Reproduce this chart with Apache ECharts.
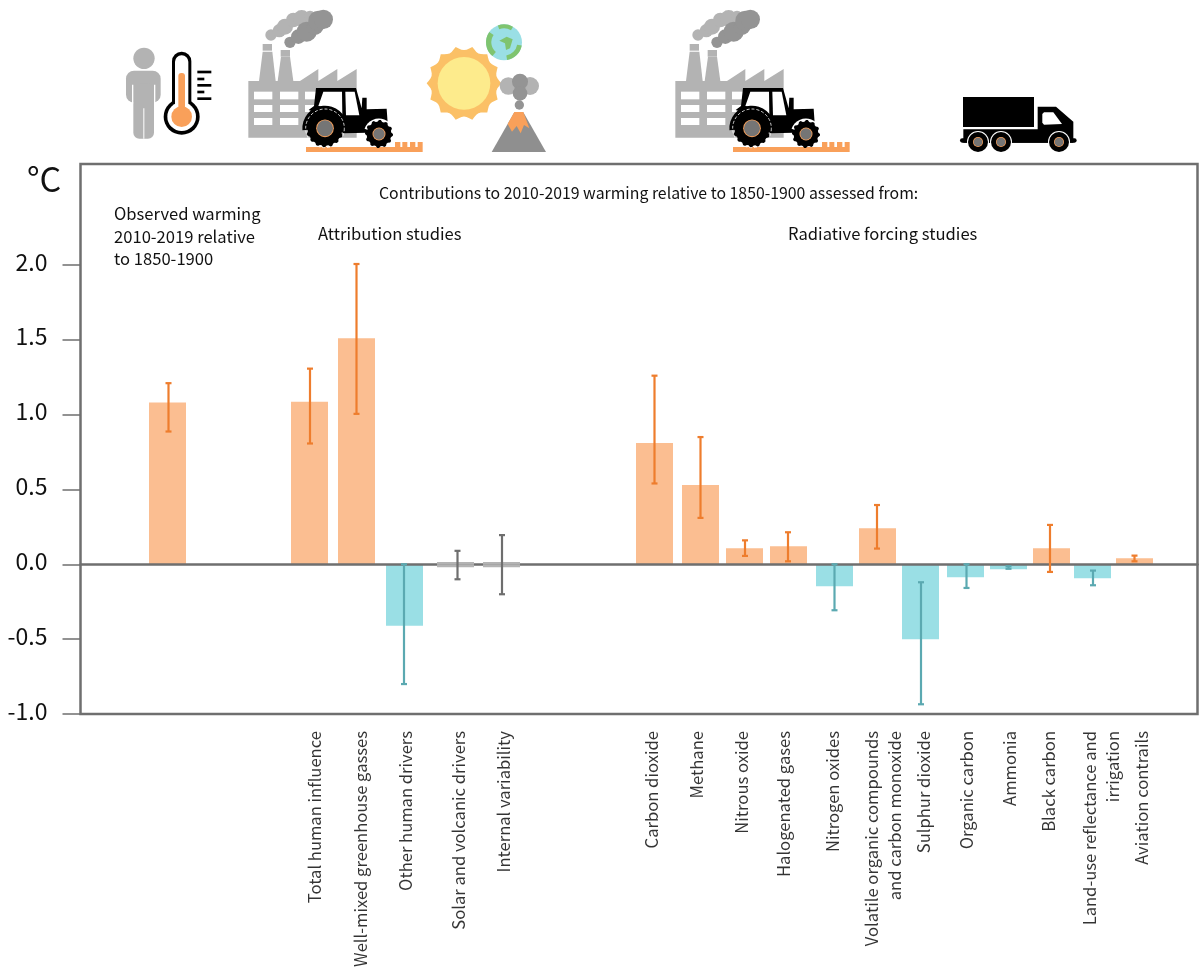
<!DOCTYPE html>
<html><head><meta charset="utf-8">
<style>html,body{margin:0;padding:0;background:#fff}#c{width:1199px;height:967px}</style>
<script src="https://cdn.jsdelivr.net/npm/echarts@6/dist/echarts.min.js"></script>
</head><body><div id="c"></div>
<script>
const categories = ['', 'Total human influence', 'Well-mixed greenhouse gasses', 'Other human drivers', 'Solar and volcanic drivers', 'Internal variability', 'Carbon dioxide', 'Methane', 'Nitrous oxide', 'Halogenated gases', 'Nitrogen oxides', 'Volatile organic compounds\nand carbon monoxide', 'Sulphur dioxide', 'Organic carbon', 'Ammonia', 'Black carbon', 'Land-use reflectance and\nirrigation', 'Aviation contrails'];
const barPositions = [87, 229, 276, 324, 375, 421, 574, 620, 664, 708, 754, 797, 840, 885, 928, 971, 1012, 1054];
const errorPositions = [88, 229.5, 276, 323.5, 377, 421.5, 574, 620, 664.5, 707.5, 754, 796.5, 840.5, 886, 928, 969.5, 1012.5, 1054];
const labelPositions = [87, 234.5, 280.5, 325.5, 378.5, 423.5, 571.5, 616.5, 661.5, 703.5, 752.5, 802.5, 843.5, 886.5, 929.5, 968.5, 1020.5, 1061.5];
const barValues = [1.08, 1.085, 1.51, -0.41, -0.02, -0.02, 0.81, 0.53, 0.107, 0.12, -0.147, 0.24, -0.50, -0.087, -0.033, 0.107, -0.094, 0.04];
const neutralUpperValues = [0, 0, 0, 0, 0.015, 0.015, 0, 0, 0, 0, 0, 0, 0, 0, 0, 0, 0, 0];
const errorLow = [0.887, 0.807, 1.005, -0.80, -0.10, -0.20, 0.54, 0.31, 0.056, 0.02, -0.307, 0.105, -0.935, -0.158, -0.03, -0.051, -0.14, 0.02];
const errorHigh = [1.21, 1.307, 2.006, 0, 0.09, 0.195, 1.26, 0.85, 0.16, 0.214, 0, 0.396, -0.12, 0, -0.013, 0.263, -0.042, 0.058];
const barGroups = ['warm','warm','warm','cool','neutral','neutral','warm','warm','warm','warm','cool','warm','cool','cool','cool','warm','cool','warm'];
const yTicks = [-1, -0.5, 0, 0.5, 1, 1.5, 2];

const FONT = '"Noto Sans CJK SC","Noto Sans",sans-serif';
const barColor = {warm:'#fbbe91', cool:'#9adfe5', neutral:'#b3b3b3'};
const errColor = {warm:'#ee7d2d', cool:'#5ba9b1', neutral:'#6e6e6e'};
const LINE = '#6f6f6f';

function pick(group){
  return barValues.map((v,i)=>[barPositions[i],v,barGroups[i]]).filter(d=>d[2]===group).map(d=>[d[0],d[1]]);
}
function barSeries(name,data,color,z){
  return {name,type:'bar',data,barWidth:37,barGap:'-100%',z,itemStyle:{color},silent:true,animation:false};
}
function errSeries(group){
  const data = errorPositions.map((x,i)=>[x,errorLow[i],errorHigh[i],barGroups[i]]).filter(d=>d[3]===group).map(d=>d.slice(0,3));
  return {type:'custom',z:6,silent:true,animation:false,clip:false,data,encode:{x:0,y:[1,2]},
    renderItem(p,api){
      const a=api.coord([api.value(0),api.value(1)]), b=api.coord([api.value(0),api.value(2)]);
      const st={stroke:errColor[group],lineWidth:2.2};
      const mk=(x1,y1,x2,y2)=>({type:'line',shape:{x1,y1,x2,y2},style:st});
      return {type:'group',children:[mk(a[0],a[1],b[0],b[1]),mk(a[0]-3,a[1],a[0]+3,a[1]),mk(b[0]-3,b[1],b[0]+3,b[1])]};
    }};
}

/* ---------- pictograms, drawn in zoom-space coordinates ---------- */
const G=[];
const T=(x,y,ox)=>[x/3+ox,y/3];
function poly(pts,fill,ox,z){G.push({type:'polygon',silent:true,z:z||10,shape:{points:pts.map(p=>T(p[0],p[1],ox))},style:{fill}});}
function rect(x1,y1,x2,y2,fill,ox,r,z){const a=T(x1,y1,ox);G.push({type:'rect',silent:true,z:z||10,shape:{x:a[0],y:a[1],width:(x2-x1)/3,height:(y2-y1)/3,r:r||0},style:{fill}});}
function circ(x,y,r,fill,ox,extra){const a=T(x,y,ox);G.push({type:'circle',silent:true,z:10,shape:{cx:a[0],cy:a[1],r:r/3},style:Object.assign({fill},extra||{})});}
function ring(cx,cy,r0,r,deg0,deg1,fill,ox){const a=T(cx,cy,ox);G.push({type:'sector',silent:true,z:10,shape:{cx:a[0],cy:a[1],r0:r0/3,r:r/3,startAngle:deg0*Math.PI/180,endAngle:deg1*Math.PI/180,clockwise:true},style:{fill}});}
function gear(cx,cy,r0,r1,n,fill,ox){const pts=[];for(let i=0;i<n*4;i++){const a=i/(n*4)*2*Math.PI;const r=(i%4<2)?r1:r0;pts.push([cx+r*Math.cos(a),cy+r*Math.sin(a)]);}poly(pts,fill,ox);}
function wheel(cx,cy,r,inner,ox){
  gear(cx,cy,r-5,r,r>45?16:12,'#000',ox);
  circ(cx,cy,inner+2.5,'#f9a05a',ox);
  circ(cx,cy,inner,'#757575',ox);
}
function factoryTractor(ox){
  const g='#b3b3b3', d='#949494';
  [[483,105,17],[508,92,20],[525,80,24],[550,60,22],[575,55,25],[600,50,18]].forEach(c=>circ(c[0],c[1],c[2],g,ox));
  [[540,127,17],[565,110,22],[590,95,30],[615,80,25],[625,62,30],[640,58,29]].forEach(c=>circ(c[0],c[1],c[2],d,ox));
  poly([[447,243],[497,243],[487,155],[458,155]],g,ox);
  rect(458,132,486,152,g,ox);
  poly([[503,243],[550,243],[540,170],[513,170]],g,ox);
  rect(512,150,540,170,g,ox);
  poly([[415,243],[570,243],[625,207],[625,243],[682,207],[682,243],[740,207],[740,413],[415,413]],g,ox);
  [[275,298],[315,336],[354,375]].forEach(r=>{[[432,487],[510,565],[585,650]].forEach(c=>rect(c[0],r[0],c[1],r[1],'#fff',ox));});
  rect(588,441,938,456,'#f9a05a',ox);
  [[855,871],[877,892],[900,916],[923,938]].forEach(c=>rect(c[0],426,c[1],441,'#f9a05a',ox));
  // tractor
  poly([[618,264],[738,264],[755,325],[757,293],[770,293],[770,328],[830,326],[835,398],[770,398],[700,400],[640,345],[596,330],[612,318]],'#000',ox);
  poly([[640,275],[696,275],[697,346],[672,328],[625,318]],'#fff',ox);
  poly([[706,275],[734,275],[748,346],[708,346]],'#fff',ox);
  ring(645,385,0,68,175,365,'#000',ox);
  wheel(645,385,57,24,ox);
  circ(645,385,58,'none',ox,{stroke:'#fff',lineWidth:0.8,lineDash:[3,2]});
  ring(807,402,0,46,200,340,'#fff',ox);
  wheel(807,402,42,17,ox);
}
factoryTractor(110);
factoryTractor(537);

// person
const OX=110, GR='#b3b3b3';
circ(102,175,32,GR,OX);
rect(48,212,152,308,GR,OX,8);
rect(70,250,132,416,GR,OX,6);
rect(66,254,70,310,'#fff',OX); rect(132,254,136,310,'#fff',OX);
rect(100,325,103,416,'#fff',OX);
// thermometer
circ(215,350,54,'#000',OX);
rect(186,155,244,350,'#000',OX,9.5);
circ(215,350,43,'#fff',OX);
rect(195,166,235,350,'#fff',OX,6.5);
rect(205,219,225,340,'#f9a05a',OX,3);
circ(215,350,31,'#f9a05a',OX);
[[212,304],[233,283],[252,304],[272,283],[292,304]].forEach(r=>rect(262,r[0],r[1],r[0]+8,'#000',OX));
// sun
(function(){const pts=[],n=14,cx=1062,cy=250;for(let i=0;i<n;i++){const a=i/n*2*Math.PI;
  for(let k=0;k<6;k++){const t=a+(k/6)*(2*Math.PI/n);const f=[1,.945,.905,.89,.905,.945][k];pts.push([cx+112*f*Math.cos(t),cy+112*f*Math.sin(t)]);}}
  poly(pts,'#fbc066',OX);circ(cx,cy,79,'#fdeb8c',OX);})();
// earth
circ(1182,127,54,'#9adfe5',OX);
ring(1182,127,38,54,130,215,'#7fc46f',OX);
ring(1182,127,42,54,250,300,'#7fc46f',OX);
ring(1182,127,40,54,10,80,'#7fc46f',OX);
poly([[1168,122],[1190,110],[1208,118],[1200,145],[1188,150],[1185,130]],'#7fc46f',OX);
// volcano
[[1195,258,26],[1260,258,27]].forEach(c=>circ(c[0],c[1],c[2],GR,OX));
[[1230,245,24],[1230,280,22],[1228,315,14]].forEach(c=>circ(c[0],c[1],c[2],'#949494',OX));
poly([[1145,456],[1308,456],[1240,337],[1213,337]],'#8f8f8f',OX);
poly([[1213,336],[1240,336],[1258,385],[1242,375],[1232,400],[1220,378],[1206,395],[1193,372]],'#f9a05a',OX);
// truck
const TX=660;
rect(909,291,1122,381,'#000',TX);
poly([[1133,320],[1188,320],[1240,365],[1240,428],[910,428],[910,388],[1133,388]],'#000',TX);
rect(900,415,1250,428,'#000',TX,4);
poly([[1147,342],[1152,337],[1180,337],[1206,372],[1152,374],[1147,368]],'#fff',TX);
[[954,426],[1023,426],[1197,426]].forEach(c=>{circ(c[0],c[1],33,'#fff',TX);circ(c[0],c[1],30,'#000',TX);circ(c[0],c[1],15,'#f9a05a',TX);circ(c[0],c[1],13,'#757575',TX);});

/* ---------- annotations ---------- */
function text(x,y,t,size){G.push({type:'text',x,y,silent:true,z:20,style:{text:t,font:size+'px '+FONT,fill:'#111',verticalAlign:'middle'}});}
text(27,179,'°C',34);
text(379,193,'Contributions to 2010-2019 warming relative to 1850-1900 assessed from:',15.85);
text(114,214,'Observed warming',16.6);
text(114,237,'2010-2019 relative',16.6);
text(114,259,'to 1850-1900',16.6);
text(318,234,'Attribution studies',16.6);
text(788,234,'Radiative forcing studies',16.6);

const chart = echarts.init(document.getElementById('c'),null,{renderer:'canvas'});
chart.setOption({
  animation:false,
  backgroundColor:'#fff',
  grid:{show:true,left:80.5,top:164,width:1117,height:550,borderColor:LINE,borderWidth:2.5,backgroundColor:'transparent',containLabel:false},
  xAxis:{type:'value',min:0,max:1117,z:3,splitLine:{show:false},axisTick:{show:false},axisLabel:{show:false},
    axisLine:{show:true,onZero:true,lineStyle:{color:LINE,width:2.5}}},
  yAxis:{type:'value',min:-1,max:2.674,interval:0.5,splitLine:{show:false},
    axisLine:{show:false},
    axisTick:{show:true,length:18,customValues:yTicks,lineStyle:{color:LINE,width:1.5}},
    axisLabel:{margin:33,customValues:yTicks,fontFamily:FONT,fontSize:23,color:'#111',verticalAlign:'bottom',lineHeight:6,formatter:v=>v.toFixed(1)}},
  series:[
    barSeries('warm',pick('warm'),barColor.warm,2),
    barSeries('cool',pick('cool'),barColor.cool,2),
    barSeries('neutral',pick('neutral'),barColor.neutral,4),
    barSeries('neutralUpper',neutralUpperValues.map((v,i)=>[barPositions[i],v]).filter(d=>d[1]!==0),barColor.neutral,4),
    errSeries('warm'),errSeries('cool'),errSeries('neutral'),
    {type:'scatter',clip:false,silent:true,symbolSize:0,z:7,animation:false,
     data:categories.map((c,i)=>({value:[labelPositions[i],-1],name:c})).filter(d=>d.name),
     label:{show:true,formatter:'{b}',position:'inside',rotate:90,align:'right',verticalAlign:'middle',offset:[-17,0],
       fontFamily:FONT,fontSize:16.6,lineHeight:23,color:'#000'}}
  ],
  graphic:{elements:G}
});
</script></body></html>
